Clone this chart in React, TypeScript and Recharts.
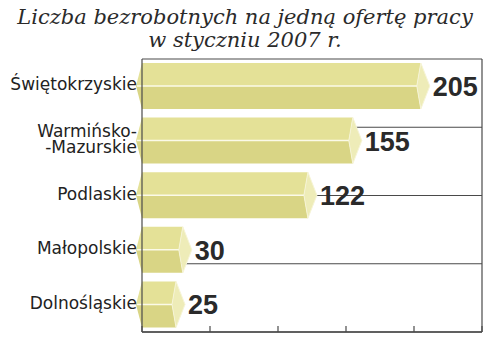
import React from "react";
import { BarChart, Bar, XAxis, YAxis, CartesianGrid, LabelList, ReferenceLine } from "recharts";

const TITLE_LINES = ["Liczba bezrobotnych na jedną ofertę pracy", "w styczniu 2007 r."];
const categories = ["Świętokrzyskie", "Warmińsko-Mazurskie", "Podlaskie", "Małopolskie", "Dolnośląskie"];
const values = [205, 155, 122, 30, 25];
const xTicks = [0, 50, 100, 150, 200, 250];
const bandEdges = [0, 1, 2, 3, 4, 5];

const data = categories.map((c, i) => ({ name: c, value: values[i] }));

const TOP = "#e4e197";
const BOTTOM = "#d9d585";
const CAP = "#eeecb8";
const LINE = "#4a4a4a";

const PrismBar = (props: any) => {
  const { x, y, width, height } = props;
  const yTop = y;
  const yBot = y + height;
  const yMid = y + height / 2;
  const xl = x;
  const xr = x + width;
  const pL = 6;
  const pR = 9;
  const ind = 4;
  const top = `${xl - pL},${yMid} ${xl},${yTop} ${xr},${yTop} ${xr - ind},${yMid}`;
  const bot = `${xl - pL},${yMid} ${xr - ind},${yMid} ${xr},${yBot} ${xl},${yBot}`;
  const cap = `${xr},${yTop} ${xr + pR},${yMid} ${xr},${yBot} ${xr - ind},${yMid}`;
  return (
    <g>
      <polygon points={top} fill={TOP} />
      <polygon points={bot} fill={BOTTOM} />
      <polygon points={cap} fill={CAP} stroke="#f6f4d6" strokeWidth={1} />
      <line x1={xl - pL + 1} y1={yMid} x2={xr - ind} y2={yMid} stroke="#fbfae8" strokeWidth={1.5} />
    </g>
  );
};

const ValueLabel = (props: any) => {
  const { x, y, width, height, value } = props;
  return (
    <text
      x={x + width + 12}
      y={y + height / 2 + 1}
      dominantBaseline="central"
      fontFamily="'Liberation Sans', Arial, sans-serif"
      fontWeight="bold"
      fontSize={27}
      fill="#2a2a2a"
    >
      {value}
    </text>
  );
};

const CatTick = (props: any) => {
  const { x, y, payload } = props;
  const name: string = payload.value;
  const idx = name.indexOf("-");
  const lines = idx > 0 ? [name.slice(0, idx + 1), name.slice(idx)] : [name];
  const lh = 16;
  const start = 4 - ((lines.length - 1) * lh) / 2;
  return (
    <text
      x={x - 5}
      y={y}
      textAnchor="end"
      fontFamily="'DejaVu Sans', sans-serif"
      fontSize={17}
      fill="#222"
    >
      {lines.map((l, i) => (
        <tspan key={i} x={x - 5} y={y + start + i * lh}>
          {l}
        </tspan>
      ))}
    </text>
  );
};

const XTick = (props: any) => {
  const { x, y } = props;
  return <line x1={x} x2={x} y1={y - 6} y2={y} stroke={LINE} strokeWidth={1.2} />;
};

export default function App() {
  return (
    <div style={{ position: "absolute", left: 0, top: 0, width: 500, height: 361, background: "#fff" }}>
      <div
        style={{
          position: "absolute",
          left: 0,
          top: 6,
          width: 490,
          textAlign: "center",
          fontFamily: "'DejaVu Serif', serif",
          fontStyle: "italic",
          fontSize: 21,
          lineHeight: "23px",
          color: "#2a2a2a",
        }}
      >
        {TITLE_LINES.map((t, i) => (
          <div key={i}>{t}</div>
        ))}
      </div>
      <div style={{ position: "absolute", left: 0, top: 0 }}>
        <BarChart
          width={500}
          height={361}
          data={data}
          layout="vertical"
          margin={{ top: 59, right: 18, bottom: 0, left: 0 }}
          barSize={46}
        >
          <YAxis yAxisId="grid" type="number" domain={[0, 5]} ticks={bandEdges} hide />
          <CartesianGrid yAxisId="grid" vertical={false} stroke={LINE} strokeWidth={1.2} />
          <ReferenceLine yAxisId="grid" y={5} stroke={LINE} strokeWidth={1.2} />
          <XAxis
            type="number"
            domain={[0, 250]}
            ticks={xTicks}
            height={29}
            axisLine={{ stroke: LINE, strokeWidth: 1.5 }}
            tickLine={false}
            tickSize={0}
            tickMargin={0}
            tick={<XTick />}
          />
          <YAxis
            type="category"
            dataKey="name"
            width={142}
            axisLine={{ stroke: LINE, strokeWidth: 1.2 }}
            tickLine={false}
            tickSize={0}
            tickMargin={0}
            tick={<CatTick />}
            interval={0}
          />
          <ReferenceLine x={250} stroke={LINE} strokeWidth={1.2} ifOverflow="extendDomain" />
          <Bar dataKey="value" shape={<PrismBar />} isAnimationActive={false}>
            <LabelList dataKey="value" content={<ValueLabel />} />
          </Bar>
        </BarChart>
      </div>
    </div>
  );
}
